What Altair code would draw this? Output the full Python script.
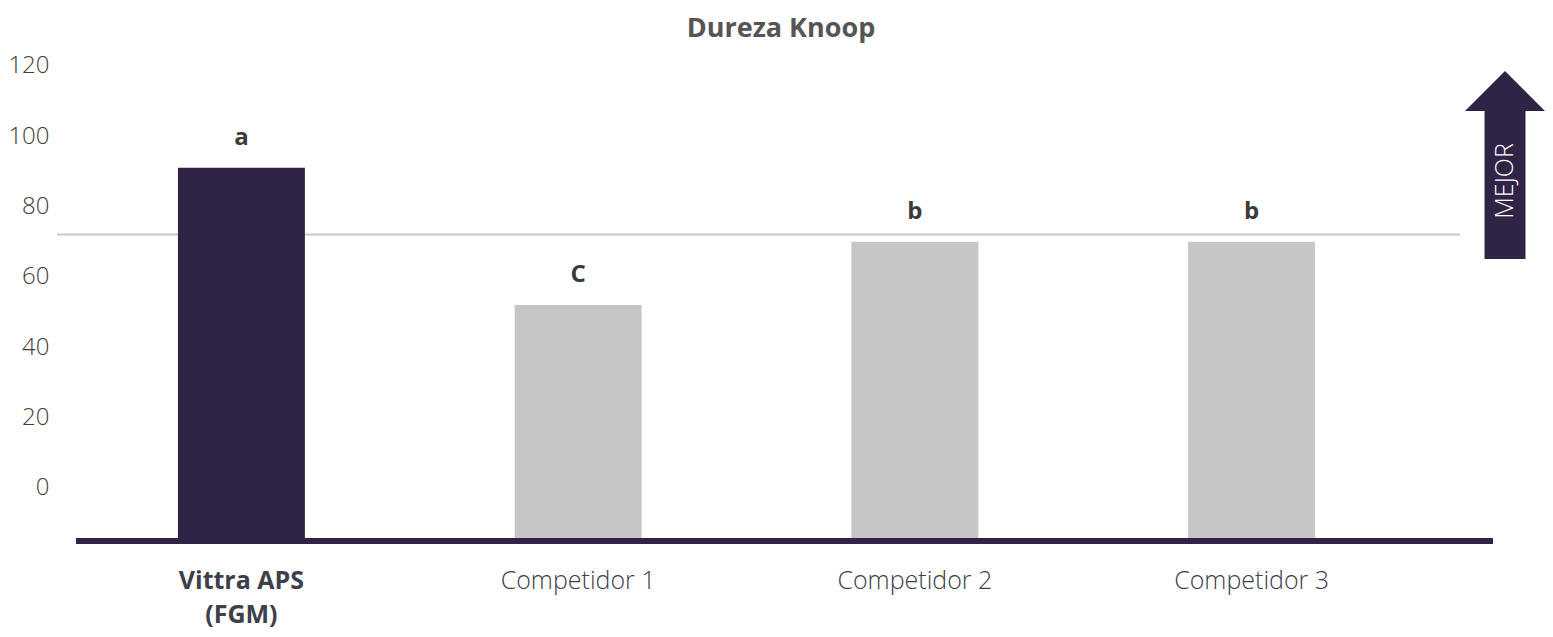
import altair as alt
import pandas as pd

# values
title = "Dureza Knoop"
categories = ["Vittra APS (FGM)", "Competidor 1", "Competidor 2", "Competidor 3"]
hardness = [91, 52, 70, 70]
letters = ["a", "C", "b", "b"]
bar_colors = ["#2f2445", "#c6c6c6", "#c6c6c6", "#c6c6c6"]
reference_line = [72]
y_ticks = [0, 20, 40, 60, 80, 100, 120]
arrow_label = "MEJOR"

y_min, y_max = -15.2, 136.5
DARK = "#2f2445"
FONT = "Open Sans"

df = pd.DataFrame({
    "producto": categories,
    "dureza": hardness,
    "letra": letters,
    "color": bar_colors,
    "base": y_min,
})

x_scale = alt.Scale(paddingInner=0.623, paddingOuter=0.521, align=0.3447)
y_scale = alt.Scale(domain=[y_min, y_max], nice=False, zero=False)

x_axis = alt.Axis(
    title=None, domain=False, ticks=False, labelAngle=0, labelOverlap=False,
    labelLimit=400, labelFont=FONT, labelFontSize=25, labelColor="#3d4049",
    labelPadding=27, labelLineHeight=34,
    labelFontWeight=alt.condition(f"datum.value == '{categories[0]}'",
                                  alt.value("bold"), alt.value(300)),
    labelExpr="indexof(datum.label, ' (') > 0 ? "
              "[substring(datum.label, 0, indexof(datum.label, ' (')), "
              "substring(datum.label, indexof(datum.label, ' (') + 1)] : datum.label",
)
y_axis = alt.Axis(
    title=None, values=y_ticks, domain=False, ticks=False, grid=False,
    labelFont=FONT, labelFontSize=24, labelFontWeight=300,
    labelColor="#404040", labelPadding=8,
)

x = alt.X("producto:N", sort=categories, scale=x_scale, axis=x_axis)

bars = alt.Chart(df).mark_bar().encode(
    x=x,
    y=alt.Y("dureza:Q", scale=y_scale, axis=y_axis),
    y2="base:Q",
    color=alt.Color("color:N", scale=None),
)

labels = alt.Chart(df).mark_text(
    font=FONT, fontSize=24, fontWeight="bold", color="#3a3a3a",
    baseline="alphabetic", dy=-23,
).encode(
    x=x,
    y=alt.Y("dureza:Q", scale=y_scale, axis=y_axis),
    text="letra:N",
)

ref = alt.Chart(pd.DataFrame({"dureza": reference_line})).mark_rule(
    color="#c8c8c8", strokeWidth=2
).encode(
    y=alt.Y("dureza:Q", scale=y_scale, axis=y_axis),
    x=alt.value(0), x2=alt.value(1403),
)

baseline = alt.Chart(pd.DataFrame({"dureza": [y_min]})).mark_rule(
    color=DARK, strokeWidth=6
).encode(
    y=alt.Y("dureza:Q", scale=y_scale, axis=y_axis),
    x=alt.value(19), x2=alt.value(1436),
)

title_text = alt.Chart(pd.DataFrame({"t": [title]})).mark_text(
    font=FONT, fontSize=27, fontWeight="bold", color="#555555",
    baseline="alphabetic",
).encode(x=alt.value(724), y=alt.value(29), text="t:N")

arrow_path = ("M0,-1 L0.4255,-0.574 L0.218,-0.574 L0.218,1 "
              "L-0.218,1 L-0.218,-0.574 L-0.4255,-0.574 Z")
arrow = alt.Chart(pd.DataFrame({"t": [arrow_label]})).mark_point(
    shape=arrow_path, size=188 ** 2, filled=True, fill=DARK, opacity=1,
    strokeWidth=0,
).encode(x=alt.value(1448), y=alt.value(157))

arrow_text = alt.Chart(pd.DataFrame({"t": [arrow_label]})).mark_text(
    font=FONT, fontSize=25, fontWeight=300, color="white", angle=270,
    align="center", baseline="middle",
).encode(x=alt.value(1448), y=alt.value(173), text="t:N")

chart = alt.layer(
    ref, bars, baseline, labels, title_text, arrow, arrow_text
).properties(
    width=1488, height=533, autosize="none",
    padding={"left": 49, "top": 0, "right": 0, "bottom": 88},
).configure_view(stroke=None)

chart.save("out.html", embed_options={"renderer": "svg", "actions": False})
